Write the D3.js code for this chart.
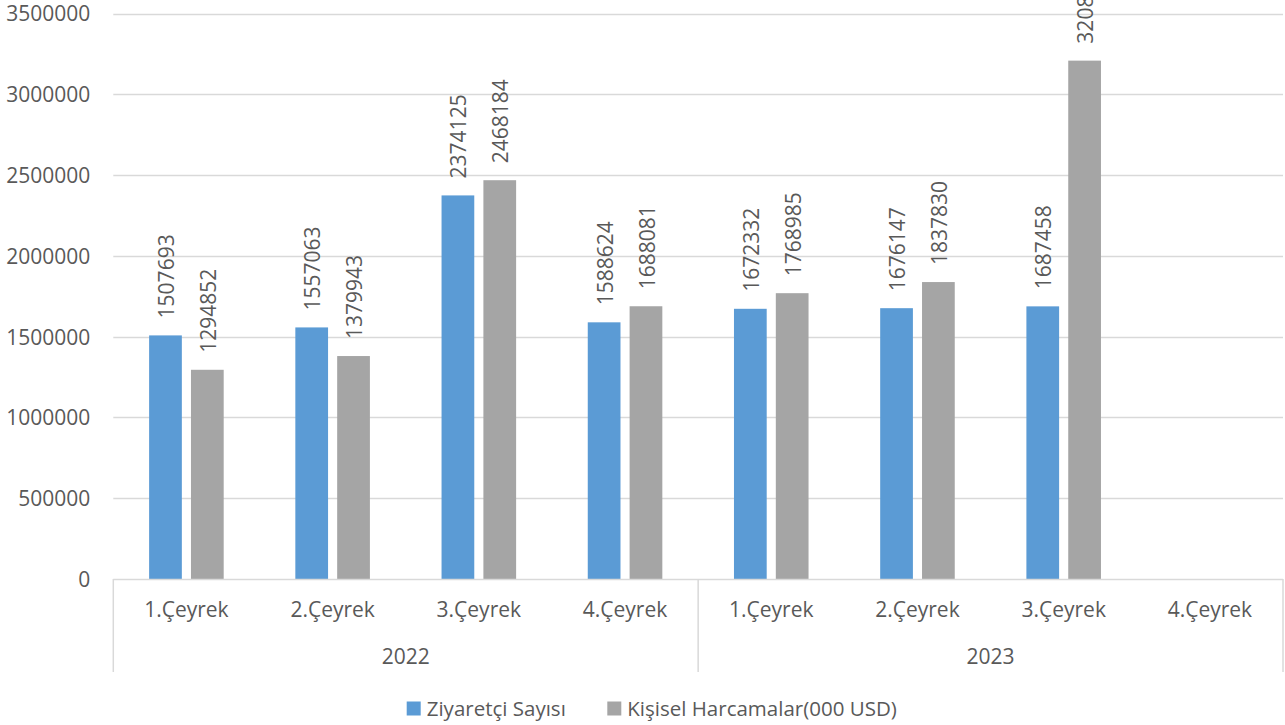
<!DOCTYPE html>
<html>
<head>
<meta charset="utf-8">
<script src="https://cdn.jsdelivr.net/npm/d3@7"></script>
<style>
  html, body { margin: 0; padding: 0; background: #fff; }
  svg { display: block; }
  text { font-family: "Open Sans", "Liberation Sans", sans-serif; fill: #595959; }
</style>
</head>
<body>
<svg id="chart" width="1285" height="725"></svg>
<script>
// Quarterly visitor counts and personal spending, 2022–2023
const years = ["2022", "2023"];
const quarters = ["1.Çeyrek", "2.Çeyrek", "3.Çeyrek", "4.Çeyrek"];
const seriesNames = ["Ziyaretçi Sayısı", "Kişisel Harcamalar(000 USD)"];
const seriesColors = ["#5B9BD5", "#A5A5A5"];
const visitors = [1507693, 1557063, 2374125, 1588624, 1672332, 1676147, 1687458, null];
const spending = [1294852, 1379943, 2468184, 1688081, 1768985, 1837830, 3208264, null];
const yTicks = [0, 500000, 1000000, 1500000, 2000000, 2500000, 3000000, 3500000];

const categories = [];
years.forEach(y => quarters.forEach(q => categories.push({ year: y, quarter: q, key: y + "-" + q })));
const rows = categories.map((c, i) => ({ ...c, values: [visitors[i], spending[i]] }));

const svg = d3.select("#chart");
const plotLeft = 113.3, plotRight = 1283, plotTop = 13.5, plotBottom = 579;

const y = d3.scaleLinear().domain([0, 3500000]).range([plotBottom, plotTop]);
const x0 = d3.scaleBand().domain(categories.map(c => c.key)).range([plotLeft, plotRight])
  .paddingInner(0.49).paddingOuter(0.245);
const x1 = d3.scaleBand().domain([0, 1]).range([0, x0.bandwidth()]).paddingInner(0.218);

// value axis labels
const yAxis = d3.axisLeft(y).tickValues(yTicks).tickSize(0).tickPadding(0).tickFormat(d3.format("d"));
const gy = svg.append("g").attr("transform", `translate(${plotLeft},0)`).call(yAxis);
gy.select(".domain").remove();
gy.selectAll("text").attr("x", -23).attr("dy", "0.35em")
  .style("font-size", "21px").style("font-family", "'Open Sans', sans-serif").attr("fill", "#595959");

// horizontal gridlines
svg.append("g").selectAll("line").data(yTicks.filter(d => d > 0)).join("line")
  .attr("x1", plotLeft).attr("x2", plotRight)
  .attr("y1", d => Math.round(y(d)) + 0.5).attr("y2", d => Math.round(y(d)) + 0.5)
  .attr("stroke", "#D9D9D9").attr("stroke-width", 1.5);

// bars
const groups = svg.append("g").selectAll("g").data(rows).join("g")
  .attr("transform", d => `translate(${x0(d.key)},0)`);

groups.selectAll("rect").data(d => d.values.map((v, i) => ({ v, i })).filter(e => e.v != null))
  .join("rect")
  .attr("x", e => x1(e.i)).attr("width", x1.bandwidth())
  .attr("y", e => y(e.v)).attr("height", e => y(0) - y(e.v))
  .attr("fill", e => seriesColors[e.i]);

// value labels, rotated
groups.selectAll("text.val").data(d => d.values.map((v, i) => ({ v, i })).filter(e => e.v != null))
  .join("text").attr("class", "val")
  .attr("transform", e => `translate(${x1(e.i) + x1.bandwidth() / 2 + 1},${y(e.v) - 17}) rotate(-90)`)
  .attr("dy", "0.36em")
  .style("font-size", "21px")
  .text(e => e.v);

// category axis
svg.append("line").attr("x1", plotLeft).attr("x2", plotRight)
  .attr("y1", plotBottom + 0.5).attr("y2", plotBottom + 0.5)
  .attr("stroke", "#D9D9D9").attr("stroke-width", 1.5);

const sepX = [plotLeft, (x0(categories[3].key) + x0(categories[4].key) + x0.bandwidth()) / 2, plotRight];
svg.append("g").selectAll("line").data(sepX).join("line")
  .attr("x1", d => d).attr("x2", d => d).attr("y1", plotBottom).attr("y2", 672)
  .attr("stroke", "#D9D9D9").attr("stroke-width", 1.5);

svg.append("g").selectAll("text").data(categories).join("text")
  .attr("x", d => x0(d.key) + x0.bandwidth() / 2).attr("y", 617)
  .attr("text-anchor", "middle").style("font-size", "21px")
  .text(d => d.quarter);

svg.append("g").selectAll("text").data(years).join("text")
  .attr("x", (d, i) => (sepX[i] + sepX[i + 1]) / 2).attr("y", 664)
  .attr("text-anchor", "middle").style("font-size", "21px")
  .text(d => d);

// legend
const legendX = [406.7, 607.3];
const lg = svg.append("g").selectAll("g").data(seriesNames).join("g")
  .attr("transform", (d, i) => `translate(${legendX[i]},701.5)`);
lg.append("rect").attr("width", 14).attr("height", 14).attr("fill", (d, i) => seriesColors[i]);
lg.append("text").attr("x", 20).attr("y", 14.5).style("font-size", "20.5px").text(d => d);
</script>
</body>
</html>
